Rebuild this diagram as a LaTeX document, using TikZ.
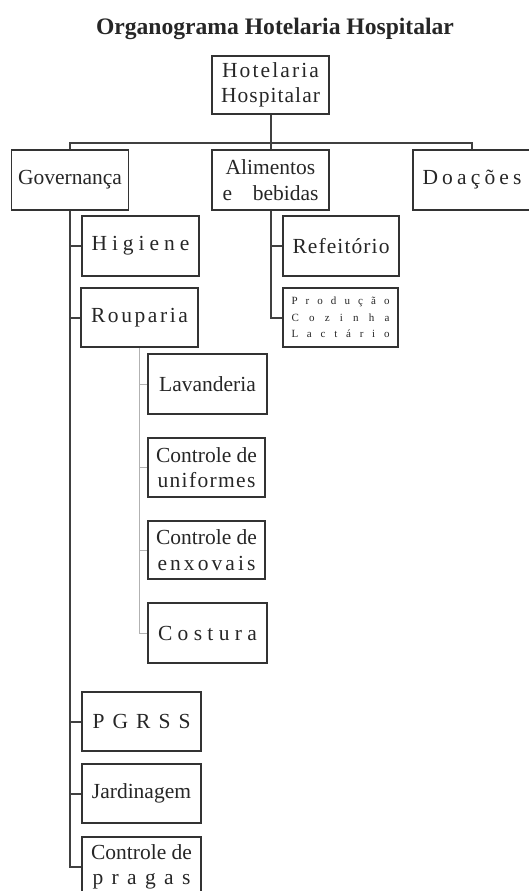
\documentclass[tikz,border=0pt]{standalone}
\usepackage{fontspec}
\setmainfont{Liberation Serif}
\usetikzlibrary{positioning}

% spread the letters of one word over a given width
\newcommand\spreadword[2]{\makebox[#1][s]{\spreadfirst#2\relax}}
\def\spreadfirst#1{#1\spreadrest}
\def\spreadrest#1{\ifx\relax#1\else\hfill#1\expandafter\spreadrest\fi}

\tikzset{
  unit/.style={draw=black!80, line width=1.6pt, minimum width=117pt,
               minimum height=59pt, inner sep=0pt, align=center, text=black!85,
               font=\fontsize{21.5}{25.5}\selectfont},
  link/.style={draw=black!75, line width=2pt},
  sublink/.style={draw=black!30, line width=0.9pt},
}

\begin{document}
\begin{tikzpicture}[x=1pt,y=-1pt]
    \useasboundingbox (0,0) rectangle (529,891);
    \node[text=black!85,font=\fontsize{23.6}{27}\selectfont\bfseries] (title) at (275,28.5) {Organograma Hotelaria Hospitalar};

    \node[unit,minimum height=58pt] (top) at (270.5,85) {\spreadword{97pt}{Hotelaria}\\\spreadword{99pt}{Hospitalar}};
    \node[unit,minimum height=60pt] (gov) at (70,180) {Governança};
    \node[unit,minimum height=60pt] (ali) at (270.5,180) {Alimentos\\\makebox[96pt]{e\hfill bebidas}};
    \node[unit,minimum height=60pt,minimum width=118pt] (doa) at (472,180) {\spreadword{99pt}{Doações}};

    \node[unit,minimum height=60pt] (hig) at (140.5,246) {\spreadword{98pt}{Higiene}};
    \node[unit] (roup) at (139.5,317.5) {\spreadword{97pt}{Rouparia}};
    \node[unit,minimum height=60pt,minimum width=116pt] (ref) at (341,246) {\spreadword{97pt}{Refeitório}};
    \node[unit,minimum width=115pt,font=\fontsize{11}{16.5}\selectfont] (prod) at (340.5,317.5)
        {\spreadword{98pt}{Produção}\\\spreadword{98pt}{Cozinha}\\\spreadword{98pt}{Lactário}};

    \node[unit,minimum height=60pt,minimum width=119pt] (lav) at (207.5,384) {Lavanderia};
    \node[unit] (unif) at (206.5,467.5) {Controle de\\\spreadword{98pt}{uniformes}};
    \node[unit,minimum height=58pt] (enx) at (206.5,550) {Controle de\\\spreadword{98pt}{enxovais}};
    \node[unit,minimum height=60pt,minimum width=119pt] (cost) at (207.5,633) {\spreadword{99pt}{Costura}};

    \node[unit,minimum width=119pt] (pgrss) at (141.5,721.5) {\spreadword{98pt}{PGRSS}};
    \node[unit,minimum width=119pt] (jard) at (141.5,793.5) {Jardinagem};
    \node[unit,minimum height=60pt,minimum width=119pt] (pragas) at (141.5,867) {Controle de\\\spreadword{98pt}{pragas}};

    % first level
    \coordinate (bus) at (270.5,143);
    \draw[link] (top.south) -- (ali.north);
    \draw[link] (gov.north) |- (bus) -| (doa.north);

    % Governança
    \draw[link] (gov.south) |- (pragas.west);
    \foreach \n in {hig,roup,pgrss,jard}
        \draw[link] (gov.south |- \n.west) -- (\n.west);

    % Alimentos e bebidas
    \draw[link] (ali.south) |- (prod.west);
    \draw[link] (ali.south |- ref.west) -- (ref.west);

    % Rouparia
    \draw[sublink] (roup.south) |- (cost.west);
    \foreach \n in {lav,unif,enx}
        \draw[sublink] (roup.south |- \n.west) -- (\n.west);
\end{tikzpicture}
\end{document}
